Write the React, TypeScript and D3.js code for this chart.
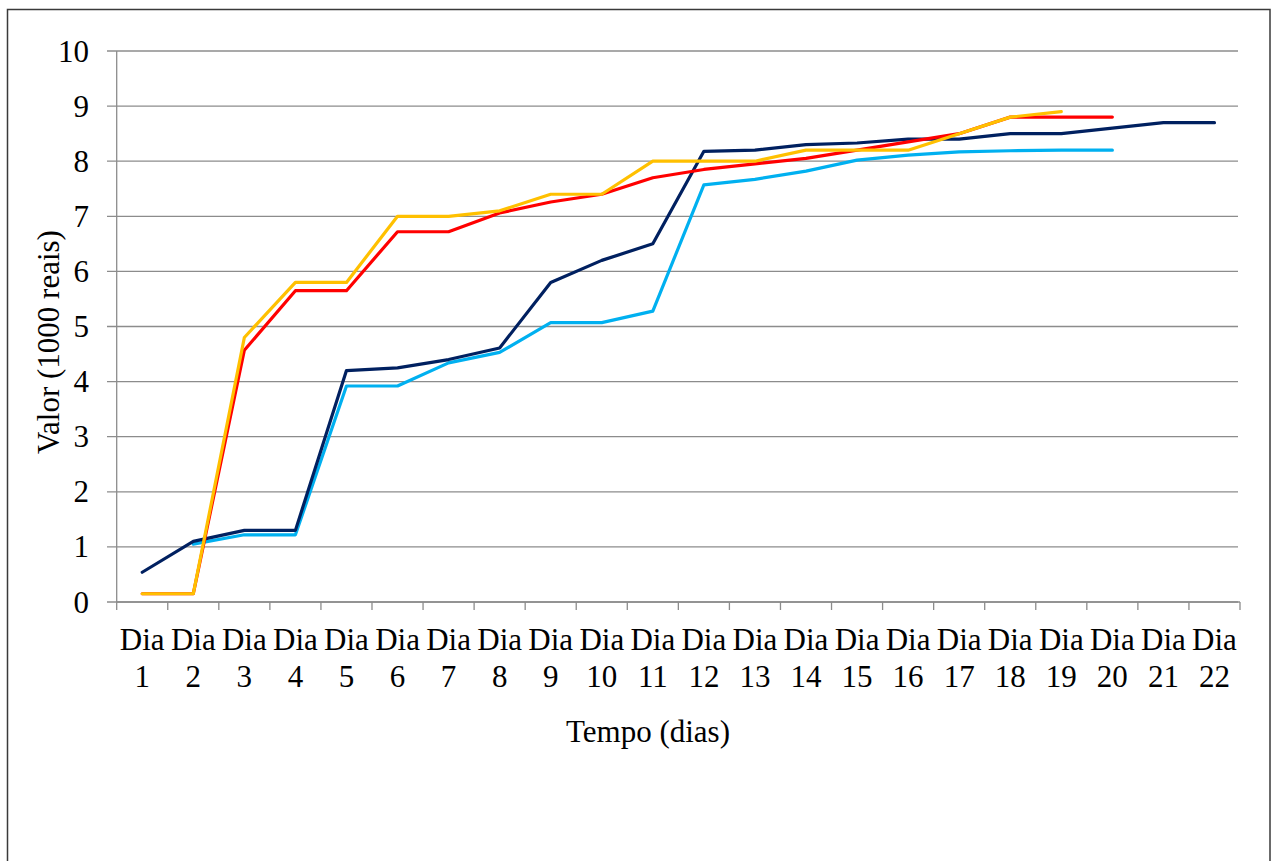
import React from "react";
import * as d3 from "d3";

const categories: string[] = Array.from({ length: 22 }, (_, i) => `Dia ${i + 1}`);
const yTicks: number[] = [0, 1, 2, 3, 4, 5, 6, 7, 8, 9, 10];

const seriesLightBlue: (number | null)[] = [
  null, 1.05, 1.22, 1.22, 3.92, 3.92, 4.34, 4.53, 5.07, 5.07, 5.28,
  7.57, 7.67, 7.82, 8.02, 8.11, 8.17, 8.19, 8.2, 8.2, null, null,
];
const seriesNavy: (number | null)[] = [
  0.54, 1.1, 1.3, 1.3, 4.2, 4.25, 4.4, 4.61, 5.8, 6.2, 6.5,
  8.18, 8.2, 8.3, 8.33, 8.4, 8.4, 8.5, 8.5, 8.6, 8.7, 8.7,
];
const seriesRed: (number | null)[] = [
  0.15, 0.15, 4.57, 5.65, 5.65, 6.72, 6.72, 7.06, 7.26, 7.4, 7.7,
  7.85, 7.95, 8.05, 8.2, 8.35, 8.5, 8.8, 8.8, 8.8, null, null,
];
const seriesYellow: (number | null)[] = [
  0.15, 0.15, 4.8, 5.8, 5.8, 7.0, 7.0, 7.1, 7.4, 7.4, 8.0,
  8.0, 8.0, 8.2, 8.2, 8.2, 8.5, 8.8, 8.9, null, null, null,
];

const seriesList = [
  { name: "Série 1", values: seriesLightBlue, color: "#00B0F0" },
  { name: "Série 2", values: seriesNavy, color: "#002060" },
  { name: "Série 3", values: seriesRed, color: "#FF0000" },
  { name: "Série 4", values: seriesYellow, color: "#FFC000" },
];

const FONT = "'Liberation Serif', 'Times New Roman', serif";

export default function App() {
  const W = 1271;
  const H = 861;
  const left = 116.7;
  const right = 1240;
  const top = 51;
  const bottom = 602;

  const x = d3.scaleBand<string>().domain(categories).range([left, right]).padding(0);
  const y = d3.scaleLinear().domain([0, 10]).range([bottom, top]);
  const cx = (c: string) => (x(c) as number) + x.bandwidth() / 2;

  const line = d3
    .line<number | null>()
    .defined((d) => d !== null)
    .x((_, i) => cx(categories[i]))
    .y((d) => y(d as number));

  const boundaries = categories.map((c) => x(c) as number).concat([right]);

  return (
    <svg
      width={W}
      height={H}
      style={{ position: "absolute", left: 0, top: 0, background: "#fff" }}
      fontFamily={FONT}
    >
      <rect x={0} y={0} width={W} height={H} fill="#fff" />
      <rect x={7.5} y={9.5} width={1262.5} height={900} fill="none" stroke="#3a3a3a" strokeWidth={1.5} />

      {/* gridlines + y ticks */}
      {yTicks.map((t) => (
        <line key={`g${t}`} x1={107} x2={1238} y1={y(t)} y2={y(t)} stroke="#8c8c8c" strokeWidth={1.3} />
      ))}
      {yTicks.map((t) => (
        <text
          key={`yl${t}`}
          x={89}
          y={y(t)}
          textAnchor="end"
          dominantBaseline="central"
          fontSize={31}
          fill="#000"
        >
          {t}
        </text>
      ))}

      {/* y axis line */}
      <line x1={left} x2={left} y1={top} y2={bottom} stroke="#8c8c8c" strokeWidth={1.3} />
      {/* x axis line */}
      <line x1={left} x2={right} y1={bottom} y2={bottom} stroke="#8c8c8c" strokeWidth={1.3} />
      {boundaries.map((b, i) => (
        <line key={`xt${i}`} x1={b} x2={b} y1={bottom} y2={bottom + 8} stroke="#8c8c8c" strokeWidth={1.3} />
      ))}

      {/* x labels */}
      {categories.map((c) => {
        const [w, n] = c.split(" ");
        return (
          <text key={`xl${c}`} x={cx(c)} textAnchor="middle" fontSize={31} fill="#000">
            <tspan x={cx(c)} y={650}>{w}</tspan>
            <tspan x={cx(c)} y={687}>{n}</tspan>
          </text>
        );
      })}

      {/* series */}
      {seriesList.map((s) => (
        <path
          key={s.name}
          d={line(s.values) || ""}
          fill="none"
          stroke={s.color}
          strokeWidth={3.2}
          strokeLinecap="round"
          strokeLinejoin="round"
        />
      ))}

      {/* axis titles */}
      <text x={648} y={742} textAnchor="middle" fontSize={31} fill="#000">
        Tempo (dias)
      </text>
      <text
        transform={`translate(59, 342) rotate(-90)`}
        textAnchor="middle"
        fontSize={31}
        fill="#000"
      >
        Valor (1000 reais)
      </text>
    </svg>
  );
}
